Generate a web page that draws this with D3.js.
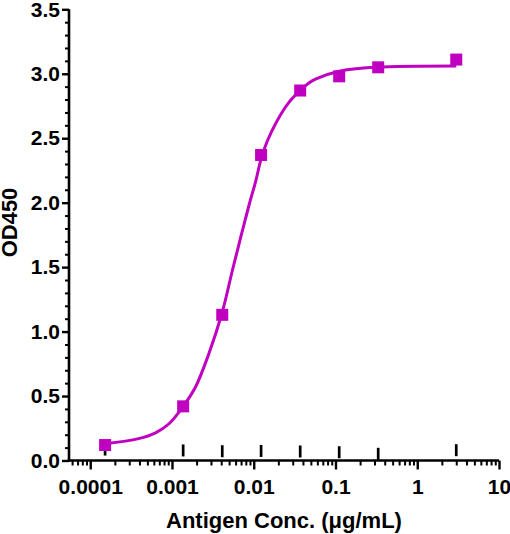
<!DOCTYPE html>
<html>
<head>
<meta charset="utf-8">
<script src="https://cdn.jsdelivr.net/npm/d3@7"></script>
<style>
  body { margin: 0; background: #fff; }
  text { font-family: "Liberation Sans", Arial, sans-serif; font-weight: bold; }
</style>
</head>
<body>
<div id="chart"></div>
<script>
// antigen concentrations (ug/mL) and OD450 readings
const conc = [0.000152, 0.00137, 0.00412, 0.0123, 0.037, 0.111, 0.333, 3];
const od450 = [0.12, 0.42, 1.13, 2.37, 2.87, 2.98, 3.05, 3.11];
// the short black "|" marks near the bottom (second series)
const control = [0.085, 0.078, 0.072, 0.074, 0.070, 0.064, 0.052, 0.080];

// fitted curve
const fitX = [0.00015, 0.00039, 0.00063, 0.00092, 0.00137, 0.00194, 0.00283, 0.00412,
  0.00546, 0.00692, 0.00875, 0.0106, 0.0123, 0.0147, 0.0195, 0.0271, 0.037, 0.0477,
  0.0577, 0.111, 0.314, 3];
const fitY = [0.13, 0.17, 0.215, 0.285, 0.42, 0.57, 0.83, 1.15,
  1.47, 1.73, 1.98, 2.17, 2.34, 2.48, 2.64, 2.78, 2.87, 2.93,
  2.96, 3.02, 3.05, 3.06];

const xTicks = [0.0001, 0.001, 0.01, 0.1, 1, 10];
const xTickLabels = ['0.0001', '0.001', '0.01', '0.1', '1', '10'];
const yTicks = [0, 0.5, 1.0, 1.5, 2.0, 2.5, 3.0, 3.5];

const width = 510, height = 534;
const magenta = '#c000c0';

const svg = d3.select('#chart').append('svg')
  .attr('width', width)
  .attr('height', height);

const x = d3.scaleLog().domain([5.5e-5, 10]).range([69, 499]);
const y = d3.scaleLinear().domain([0, 3.5]).range([460.5, 9.3]);

// minor ticks: 2..9 in every decade, and every 0.1 on y
const xMinor = [];
[1e-5, 1e-4, 1e-3, 1e-2, 1e-1, 1].forEach(d => {
  for (let k = 2; k <= 9; k++) {
    const v = d * k;
    if (v >= 5.5e-5 && v <= 10) xMinor.push(v);
  }
});
const yMinor = d3.range(0, 36).map(i => i / 10).filter(v => Math.round(v * 10) % 5 !== 0);

// x axis
svg.append('g')
  .attr('transform', `translate(0,${y(0)})`)
  .call(d3.axisBottom(x).tickValues(xMinor).tickSize(5).tickSizeOuter(0).tickFormat(''))
  .call(g => g.selectAll('.tick line').attr('stroke-width', 2))
  .call(g => g.select('.domain').remove());

svg.append('g')
  .attr('transform', `translate(0,${y(0)})`)
  .call(d3.axisBottom(x).tickValues(xTicks).tickSize(9).tickSizeOuter(0).tickPadding(10)
    .tickFormat((d, i) => xTickLabels[i]))
  .call(g => g.select('.domain').attr('stroke-width', 2.6).attr('d', `M${x.range()[0] - 1.3},0H${x.range()[1]}`))
  .call(g => g.selectAll('.tick line').attr('stroke-width', 2.4))
  .call(g => g.selectAll('text').attr('font-size', 21).attr('fill', '#000'));

// y axis
svg.append('g')
  .attr('transform', `translate(${x.range()[0]},0)`)
  .call(d3.axisLeft(y).tickValues(yMinor).tickSize(4).tickSizeOuter(0).tickFormat(''))
  .call(g => g.selectAll('.tick line').attr('stroke-width', 2))
  .call(g => g.select('.domain').remove());

svg.append('g')
  .attr('transform', `translate(${x.range()[0]},0)`)
  .call(d3.axisLeft(y).tickValues(yTicks).tickSize(7).tickSizeOuter(0).tickPadding(2)
    .tickFormat(d3.format('.1f')))
  .call(g => g.select('.domain').attr('stroke-width', 2.6).attr('d', `M0,${y.range()[0] + 1.3}V${y.range()[1]}`))
  .call(g => g.selectAll('.tick line').attr('stroke-width', 2.4))
  .call(g => g.selectAll('text').attr('font-size', 21).attr('fill', '#000'));

// axis titles
svg.append('text')
  .attr('x', (x.range()[0] + x.range()[1]) / 2)
  .attr('y', 528)
  .attr('text-anchor', 'middle')
  .attr('font-size', 22)
  .text('Antigen Conc. (μg/mL)');

svg.append('text')
  .attr('transform', 'translate(16.5,222.5) rotate(-90)')
  .attr('text-anchor', 'middle')
  .attr('font-size', 22)
  .text('OD450');

// second series: short vertical bars
svg.selectAll('.ctrl')
  .data(conc.map((c, i) => ({ c, v: control[i] })))
  .enter()
  .append('line')
  .attr('class', 'ctrl')
  .attr('x1', d => x(d.c))
  .attr('x2', d => x(d.c))
  .attr('y1', d => y(d.v) - 6)
  .attr('y2', d => y(d.v) + 6)
  .attr('stroke', '#000')
  .attr('stroke-width', 2.7);

// fitted curve
const line = d3.line()
  .x(d => x(d[0]))
  .y(d => y(d[1]))
  .curve(d3.curveCatmullRom.alpha(0.5));

svg.append('path')
  .datum(fitX.map((c, i) => [c, fitY[i]]))
  .attr('d', line)
  .attr('fill', 'none')
  .attr('stroke', magenta)
  .attr('stroke-width', 3);

// data squares
const s = 12;
svg.selectAll('.pt')
  .data(conc.map((c, i) => ({ c, v: od450[i] })))
  .enter()
  .append('rect')
  .attr('class', 'pt')
  .attr('x', d => x(d.c) - s / 2)
  .attr('y', d => y(d.v) - s / 2)
  .attr('width', s)
  .attr('height', s)
  .attr('fill', magenta);
</script>
</body>
</html>
